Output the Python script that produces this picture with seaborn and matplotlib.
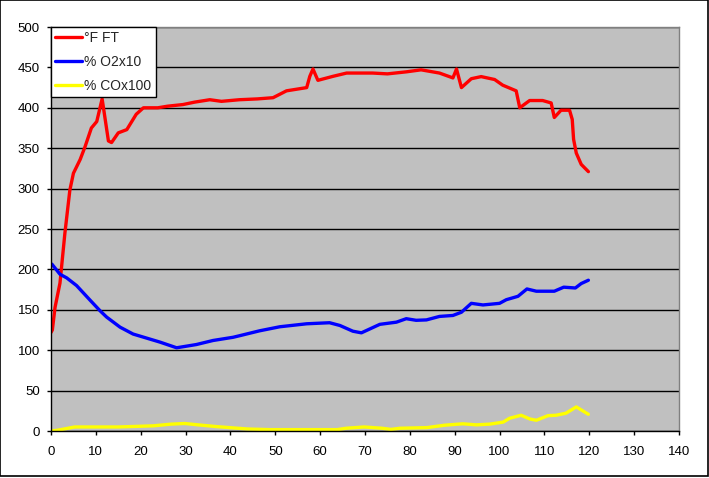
# Gráfico de temperatura de humos y composición de gases (estilo Excel)
import matplotlib
matplotlib.use("Agg")
import matplotlib.pyplot as plt
import seaborn as sns

# Datos
tiempo_ft = [0, 0.3, 0.9, 2, 3.1, 4.2, 5, 6.5, 7.6, 9, 10.2, 11.4, 12.8, 13.5, 15, 16.9,
             19, 20.6, 23.8, 26, 29.4, 32, 35.4, 38, 42, 46, 49.5, 52.5, 57, 57.7, 58.4,
             59.5, 62.9, 65.9, 71.7, 75, 79.2, 82.5, 86.6, 89.6, 90.4, 91.5, 93.7, 95.9,
             98.9, 100.7, 103.7, 104.5, 106.7, 109.6, 111.5, 112.2, 113.7, 115.6, 116.2,
             116.5, 117.1, 118.2, 119.8]
temp_ft = [122, 125, 153, 183, 245, 298, 319, 336, 352, 375, 383, 411, 359, 357, 369, 373,
           392, 400, 400, 402, 404, 407, 410, 408, 410, 411, 412.5, 421, 425, 439, 448,
           434, 439, 443, 443, 442, 444.5, 447, 443, 437, 448, 425, 436, 438.6,
           435, 428, 421, 400, 409, 409, 406, 388, 397, 397, 385.6,
           361, 344, 330, 321]

tiempo_o2 = [0, 0.2, 2, 3.5, 5.7, 8.7, 10.9, 12.4, 15.4, 18.3, 21.3, 24.3, 28, 32.4, 36.1,
             40.6, 42.1, 46.5, 51, 57, 62.1, 64.4, 67.3, 69.2, 73.3, 77, 79.2, 81.4, 83.7,
             86.6, 89.6, 91.5, 93.7, 96.3, 100, 101.5, 104.1, 106.1, 108.2, 112.2, 114.3,
             116.9, 118.2, 119.8]
o2_x10 = [205, 206.5, 194, 189.5, 180, 162, 149, 141, 128.5, 120, 115, 110, 103, 107, 112,
          116, 118, 124, 129, 132.7, 134, 130.6, 123.5, 121.5, 132, 134.7, 139, 137, 137.5,
          141.8, 143, 147, 158, 156, 158, 162.5, 166.7, 175.8, 173, 173, 178,
          177, 182.5, 186.6]

tiempo_co = [0, 1.5, 3.8, 5.3, 15, 22.8, 26.8, 29.8, 32.8, 36.8, 39.8, 43.8, 48.8, 63.8,
             65.8, 69.8, 73.8, 75.8, 77.8, 83.8, 87.8, 91.8, 94.8, 97.8, 100.8, 102.2,
             104.8, 106.8, 108.2, 110.8, 112.6, 114.8, 117.1, 119.8]
co_x100 = [0, 1, 3.4, 5, 5, 6.4, 8.5, 9.3, 7.6, 5.5, 4.2, 2.5, 1.7, 1.7,
           3.4, 5, 3.4, 2, 3.4, 4.2, 7.2, 8.9, 7.6, 8.5, 11, 15.7,
           19.5, 14.8, 13.3, 19, 19.5, 22, 29.8, 20.7]

etiquetas = ["°F FT", "% O2x10", "% COx100"]
colores = ["#FF0000", "#0000FF", "#FFFF00"]

sns.set_style("white")
plt.rcParams['font.family'] = ['Liberation Sans', 'DejaVu Sans']

fig = plt.figure(figsize=(7.09, 4.78), dpi=100)
ax = fig.add_axes([51 / 709, 1 - 431 / 478, 628 / 709, 404 / 478])
ax.set_facecolor("#C0C0C0")

# Líneas de cada serie
series = [(tiempo_ft, temp_ft), (tiempo_o2, o2_x10), (tiempo_co, co_x100)]
for (xs, ys), etiqueta, color in zip(series, etiquetas, colores):
    sns.lineplot(x=xs, y=ys, ax=ax, color=color, linewidth=2.4, label=etiqueta,
                 sort=False, estimator=None)

# Ejes
ax.set_xlim(0, 140)
ax.set_ylim(0, 500)
ax.set_xticks(range(0, 141, 10))
ax.set_yticks(range(0, 501, 50))
ax.set_xlabel("")
ax.set_ylabel("")
ax.yaxis.grid(True, color="black", linewidth=1)
ax.xaxis.grid(False)
ax.set_axisbelow(True)
ax.tick_params(axis="x", direction="out", length=3, width=1, pad=8,
               labelsize=9.5, colors="black", bottom=True)
ax.tick_params(axis="y", direction="out", length=3, width=1, pad=5,
               labelsize=9.5, colors="black", left=True)
for lado in ["left", "bottom"]:
    ax.spines[lado].set_color("black")
    ax.spines[lado].set_linewidth(1)
for lado in ["top", "right"]:
    ax.spines[lado].set_color("#808080")
    ax.spines[lado].set_linewidth(1)

# Leyenda arriba a la izquierda
leg = ax.legend(loc="upper left", bbox_to_anchor=(0, 1), borderaxespad=0,
                fancybox=False, framealpha=1, edgecolor="black", fontsize=10,
                handlelength=1.95, handletextpad=0.15, labelspacing=0.7,
                borderpad=0.3)
leg.get_frame().set_linewidth(1)

# Borde del área del gráfico
borde = plt.Rectangle((0.0007, 0.004), 0.998, 0.995, transform=fig.transFigure,
                      fill=False, edgecolor="black", linewidth=1.2)
fig.patches.append(borde)

fig.savefig("out.png", dpi=100, facecolor="white")
